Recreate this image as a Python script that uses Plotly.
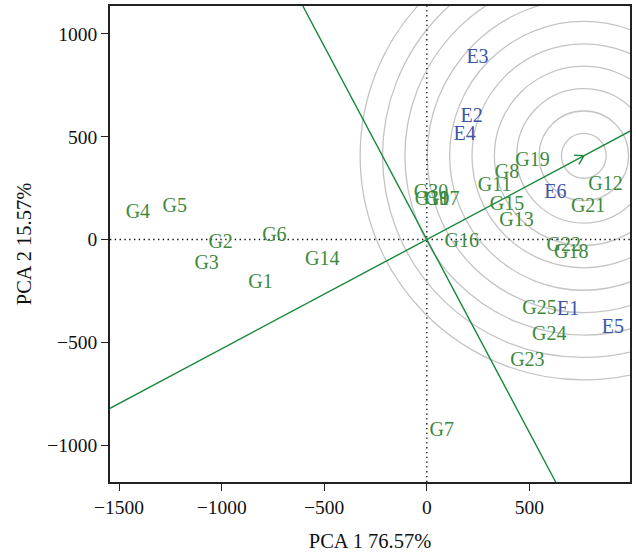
import numpy as np
import plotly.graph_objects as go

# Genotype scores (label positions)
gen_names = ["G1", "G2", "G3", "G4", "G5", "G6", "G7", "G8", "G10", "G9", "G17", "G30",
             "G11", "G12", "G13", "G14", "G15", "G16", "G18", "G19", "G21", "G22",
             "G23", "G24", "G25"]
gen_x = [-811, -1005, -1073, -1408, -1228, -743, 73, 391, 25, 50, 75, 20,
         330, 871, 437, -510, 391, 170, 704, 515, 786, 667,
         490, 597, 549]
gen_y = [-214, -19, -121, 131, 160, 19, -932, 325, 190, 192, 192, 227,
         262, 267, 92, -102, 167, -10, -68, 381, 160, -32,
         -590, -466, -340]

# Environment scores
env_names = ["E1", "E2", "E3", "E4", "E5", "E6"]
env_x = [689, 218, 247, 184, 907, 626]
env_y = [-345, 595, 883, 510, -430, 225]

# Ideal environment point and concentric rings
ideal_x, ideal_y = 765, 407
ring_step = 109
n_rings = 10

xr = [-1544, 990]
yr = [-1180, 1136]

green_txt = "#3d8a3d"
blue_txt = "#3b55a8"
line_green = "#17873a"
font_family = "Liberation Serif, Times New Roman, serif"

fig = go.Figure()

# rings
for k in range(1, n_rings + 1):
    r = k * ring_step
    fig.add_shape(type="circle", xref="x", yref="y",
                  x0=ideal_x - r, x1=ideal_x + r, y0=ideal_y - r, y1=ideal_y + r,
                  line=dict(color="#c4c4c4", width=1.3), layer="below")

# dotted axes through origin
fig.add_trace(go.Scatter(x=[0, 0], y=yr, mode="lines",
                         line=dict(color="black", width=1.3, dash="1.3px,3.5px"), hoverinfo="skip"))
fig.add_trace(go.Scatter(x=xr, y=[0, 0], mode="lines",
                         line=dict(color="black", width=1.3, dash="1.3px,3.5px"), hoverinfo="skip"))

# AEC abscissa and ordinate
slope = ideal_y / ideal_x
fig.add_trace(go.Scatter(x=xr, y=[slope * xr[0], slope * xr[1]], mode="lines",
                         line=dict(color=line_green, width=1.4), hoverinfo="skip"))
perp = -1.0 / slope
fig.add_trace(go.Scatter(x=[yr[0] / perp, yr[1] / perp], y=yr, mode="lines",
                         line=dict(color=line_green, width=1.4), hoverinfo="skip"))

# arrowhead (chevron) at ideal point
theta = np.arctan2(ideal_y, ideal_x)
arm = 48
ang = np.deg2rad(32)
ax1 = ideal_x - arm * np.cos(theta - ang)
ay1 = ideal_y - arm * np.sin(theta - ang)
ax2 = ideal_x - arm * np.cos(theta + ang)
ay2 = ideal_y - arm * np.sin(theta + ang)
fig.add_trace(go.Scatter(x=[ax1, ideal_x, ax2], y=[ay1, ideal_y, ay2], mode="lines",
                         line=dict(color=line_green, width=1.4), hoverinfo="skip"))

# labels
fig.add_trace(go.Scatter(x=gen_x, y=gen_y, text=gen_names, mode="text",
                         textposition="middle center",
                         textfont=dict(color=green_txt, size=20, family=font_family),
                         cliponaxis=False))
fig.add_trace(go.Scatter(x=env_x, y=env_y, text=env_names, mode="text",
                         textposition="middle center",
                         textfont=dict(color=blue_txt, size=20, family=font_family),
                         cliponaxis=False))

axis_common = dict(showgrid=False, zeroline=False, showline=True, linecolor="#222",
                   linewidth=1.5, mirror=True, ticks="outside", ticklen=7, tickwidth=1.3,
                   tickcolor="#222", tickfont=dict(size=19.5, family=font_family, color="#111"))

fig.update_layout(
    width=636, height=553,
    margin=dict(l=110, r=4, t=6, b=70),
    paper_bgcolor="white", plot_bgcolor="white",
    showlegend=False,
    font=dict(family=font_family, color="#111"),
    xaxis=dict(range=xr, tickvals=[-1500, -1000, -500, 0, 500],
               title=dict(text="PCA 1 76.57%", font=dict(size=20.5, family=font_family), standoff=16),
               **axis_common),
    yaxis=dict(range=yr, tickvals=[-1000, -500, 0, 500, 1000],
               title=dict(text="PCA 2 15.57%", font=dict(size=20.5, family=font_family), standoff=10),
               **axis_common),
)

fig.write_html("out.html")
